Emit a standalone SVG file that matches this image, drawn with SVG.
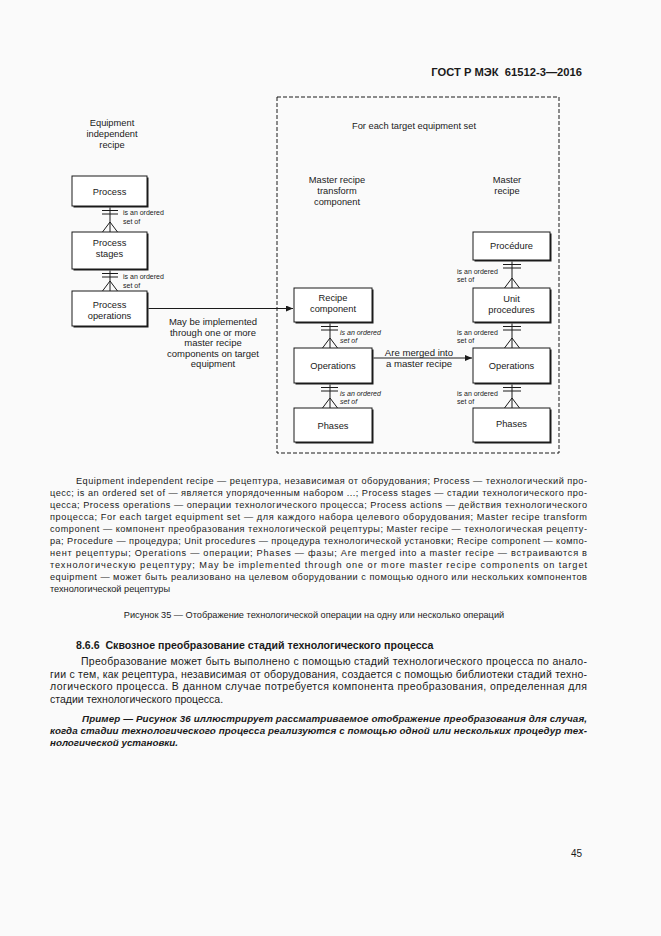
<svg xmlns="http://www.w3.org/2000/svg" width="661" height="936" viewBox="0 0 661 936">
<style>
text{font-family:"Liberation Sans",Arial,sans-serif;fill:#1a1a1a}
.lb{font-size:9.3px;text-anchor:middle}
.sm{font-size:7px}
.it{font-style:italic}
.lg{font-size:9.2px}
.pa{font-size:10.5px}
.hd{font-size:10.6px;font-weight:bold}
.ex{font-size:9.8px;font-weight:bold;font-style:italic}
.box{fill:#fff;stroke:#1a1a1a;stroke-width:1}
.sh{fill:#1a1a1a}
.ln{stroke:#1a1a1a;stroke-width:1;fill:none}
</style>
<defs>
<marker id="ah" markerWidth="8" markerHeight="6" refX="7" refY="3" orient="auto" markerUnits="userSpaceOnUse">
<path d="M0,0 L7,3 L0,6 Z" fill="#1a1a1a"/>
</marker>
</defs>
<rect width="661" height="936" fill="#fafafa"/>
<text x="582" y="76" style="font-size:11.2px;font-weight:bold" text-anchor="end">ГОСТ Р МЭК&#160; 61512-3—2016</text>

<rect x="277" y="97" width="282" height="356" fill="none" stroke="#1a1a1a" stroke-width="1" stroke-dasharray="4,2"/>

<g id="titles">
<text class="lb" x="112" y="126">Equipment</text>
<text class="lb" x="112" y="137">independent</text>
<text class="lb" x="112" y="148">recipe</text>
<text class="lb" x="414" y="129">For each target equipment set</text>
<text class="lb" x="337" y="183">Master recipe</text>
<text class="lb" x="337" y="194">transform</text>
<text class="lb" x="337" y="205">component</text>
<text class="lb" x="507" y="183">Master</text>
<text class="lb" x="507" y="194">recipe</text>
</g>

<g id="n-process"><rect class="sh" x="73.5" y="177.5" width="75" height="30"/><rect class="box" x="72" y="176" width="75" height="30"/><text class="lb" x="109.5" y="195">Process</text></g>
<g id="n-stages"><rect class="sh" x="73.5" y="233.5" width="75" height="37"/><rect class="box" x="72" y="232" width="75" height="37"/><text class="lb" x="109.5" y="245.5">Process</text><text class="lb" x="109.5" y="256.5">stages</text></g>
<g id="n-procops"><rect class="sh" x="73.5" y="292.5" width="75" height="35"/><rect class="box" x="72" y="291" width="75" height="35"/><text class="lb" x="109.5" y="308">Process</text><text class="lb" x="109.5" y="319">operations</text></g>

<g id="n-recipecomp"><rect class="sh" x="295.5" y="289.5" width="78" height="34"/><rect class="box" x="294" y="288" width="78" height="34"/><text class="lb" x="333" y="300.5">Recipe</text><text class="lb" x="333" y="311.5">component</text></g>
<g id="n-ops1"><rect class="sh" x="295.5" y="349.5" width="78" height="35"/><rect class="box" x="294" y="348" width="78" height="35"/><text class="lb" x="333" y="369">Operations</text></g>
<g id="n-phases1"><rect class="sh" x="295.5" y="409.5" width="78" height="34"/><rect class="box" x="294" y="408" width="78" height="34"/><text class="lb" x="333" y="429">Phases</text></g>

<g id="n-procedure"><rect class="sh" x="474.5" y="233.5" width="77" height="28"/><rect class="box" x="473" y="232" width="77" height="28"/><text class="lb" x="511.5" y="249">Procédure</text></g>
<g id="n-unitproc"><rect class="sh" x="474.5" y="289.5" width="77" height="34"/><rect class="box" x="473" y="288" width="77" height="34"/><text class="lb" x="511.5" y="302">Unit</text><text class="lb" x="511.5" y="312.5">procedures</text></g>
<g id="n-ops2"><rect class="sh" x="474.5" y="349.5" width="77" height="35"/><rect class="box" x="473" y="348" width="77" height="35"/><text class="lb" x="511.5" y="369">Operations</text></g>
<g id="n-phases2"><rect class="sh" x="474.5" y="409.5" width="77" height="34"/><rect class="box" x="473" y="408" width="77" height="34"/><text class="lb" x="511.5" y="426.5">Phases</text></g>

<g id="connectors">
<path class="ln" d="M110,207.5V232 M102,210.5H118 M102,214H118 M110,222L102.5,232 M110,222L117.5,232"/>
<text class="sm" x="123" y="215">is an ordered</text><text class="sm" x="123" y="224">set of</text>
<path class="ln" d="M110,270.5V291 M102,273.5H118 M102,277H118 M110,281L102.5,291 M110,281L117.5,291"/>
<text class="sm" x="123" y="279">is an ordered</text><text class="sm" x="123" y="288">set of</text>
<path class="ln" d="M330,323.5V348 M321,326.5H338 M321,330H338 M330,338L322.5,348 M330,338L337.5,348"/>
<text class="sm it" x="340" y="334.5">is an ordered</text><text class="sm it" x="340" y="342.5">set of</text>
<path class="ln" d="M330,384.5V408 M321,387.5H338 M321,391H338 M330,398L322.5,408 M330,398L337.5,408"/>
<text class="sm it" x="340" y="395.5">is an ordered</text><text class="sm it" x="340" y="403.5">set of</text>
<path class="ln" d="M512,261.5V288 M503,264.5H521 M503,268H521 M512,278L504.5,288 M512,278L519.5,288"/>
<text class="sm" x="457" y="273.5">is an ordered</text><text class="sm" x="457" y="281.5">set of</text>
<path class="ln" d="M512,323.5V348 M503,326.5H521 M503,330H521 M512,338L504.5,348 M512,338L519.5,348"/>
<text class="sm" x="457" y="334.5">is an ordered</text><text class="sm" x="457" y="342.5">set of</text>
<path class="ln" d="M512,384.5V408 M503,387.5H521 M503,391H521 M512,398L504.5,408 M512,398L519.5,408"/>
<text class="sm" x="457" y="395.5">is an ordered</text><text class="sm" x="457" y="403.5">set of</text>
<path class="ln" d="M148.5,308.5H293" marker-end="url(#ah)"/>
<path class="ln" d="M373.5,358H472" marker-end="url(#ah)"/>
<g style="font-size:9.5px" text-anchor="middle">
<text x="213" y="325">May be implemented</text>
<text x="213" y="335.5">through one or more</text>
<text x="213" y="346">master recipe</text>
<text x="213" y="356.5">components on target</text>
<text x="213" y="367">equipment</text>
<text x="419" y="355.5" style="font-size:9.6px">Are merged into</text>
<text x="419" y="366.5" style="font-size:9.6px">a master recipe</text>
</g>
</g>

<g id="legend" class="lg">
<text x="76" y="484" textLength="511" lengthAdjust="spacing">Equipment independent recipe — рецептура, независимая от оборудования; Process — технологический про-</text>
<text x="50" y="496" textLength="537" lengthAdjust="spacing">цесс; is an ordered set of — является упорядоченным набором ...; Process stages — стадии технологического про-</text>
<text x="50" y="508" textLength="537" lengthAdjust="spacing">цесса; Process operations — операции технологического процесса; Process actions — действия технологического</text>
<text x="50" y="520" textLength="537" lengthAdjust="spacing">процесса; For each target equipment set — для каждого набора целевого оборудования; Master recipe transform</text>
<text x="50" y="532" textLength="537" lengthAdjust="spacing">component — компонент преобразования технологической рецептуры; Master recipe — технологическая рецепту-</text>
<text x="50" y="544" textLength="537" lengthAdjust="spacing">ра; Procedure — процедура; Unit procedures — процедура технологической установки; Recipe component — компо-</text>
<text x="50" y="556" textLength="537" lengthAdjust="spacing">нент рецептуры; Operations — операции; Phases — фазы; Are merged into a master recipe — встраиваются в</text>
<text x="50" y="568" textLength="537" lengthAdjust="spacing">технологическую рецептуру; May be implemented through one or more master recipe components on target</text>
<text x="50" y="580" textLength="537" lengthAdjust="spacing">equipment — может быть реализовано на целевом оборудовании с помощью одного или нескольких компонентов</text>
<text x="50" y="592">технологической рецептуры</text>
</g>

<text class="lg" x="314" y="618" text-anchor="middle">Рисунок 35 — Отображение технологической операции на одну или несколько операций</text>

<text class="hd" x="76" y="649">8.6.6&#160; Сквозное преобразование стадий технологического процесса</text>
<g class="pa">
<text x="81" y="665" textLength="506" lengthAdjust="spacing">Преобразование может быть выполнено с помощью стадий технологического процесса по анало-</text>
<text x="50" y="677.5" textLength="537" lengthAdjust="spacing">гии с тем, как рецептура, независимая от оборудования, создается с помощью библиотеки стадий техно-</text>
<text x="50" y="690" textLength="537" lengthAdjust="spacing">логического процесса. В данном случае потребуется компонента преобразования, определенная для</text>
<text x="50" y="702.5">стадии технологического процесса.</text>
</g>
<g class="ex">
<text x="82" y="721.5" textLength="505" lengthAdjust="spacing">Пример — Рисунок 36 иллюстрирует рассматриваемое отображение преобразования для случая,</text>
<text x="50" y="733.5" textLength="537" lengthAdjust="spacing">когда стадии технологического процесса реализуются с помощью одной или нескольких процедур тех-</text>
<text x="50" y="745.5">нологической установки.</text>
</g>
<text x="582" y="857" style="font-size:10px" text-anchor="end">45</text>
</svg>
